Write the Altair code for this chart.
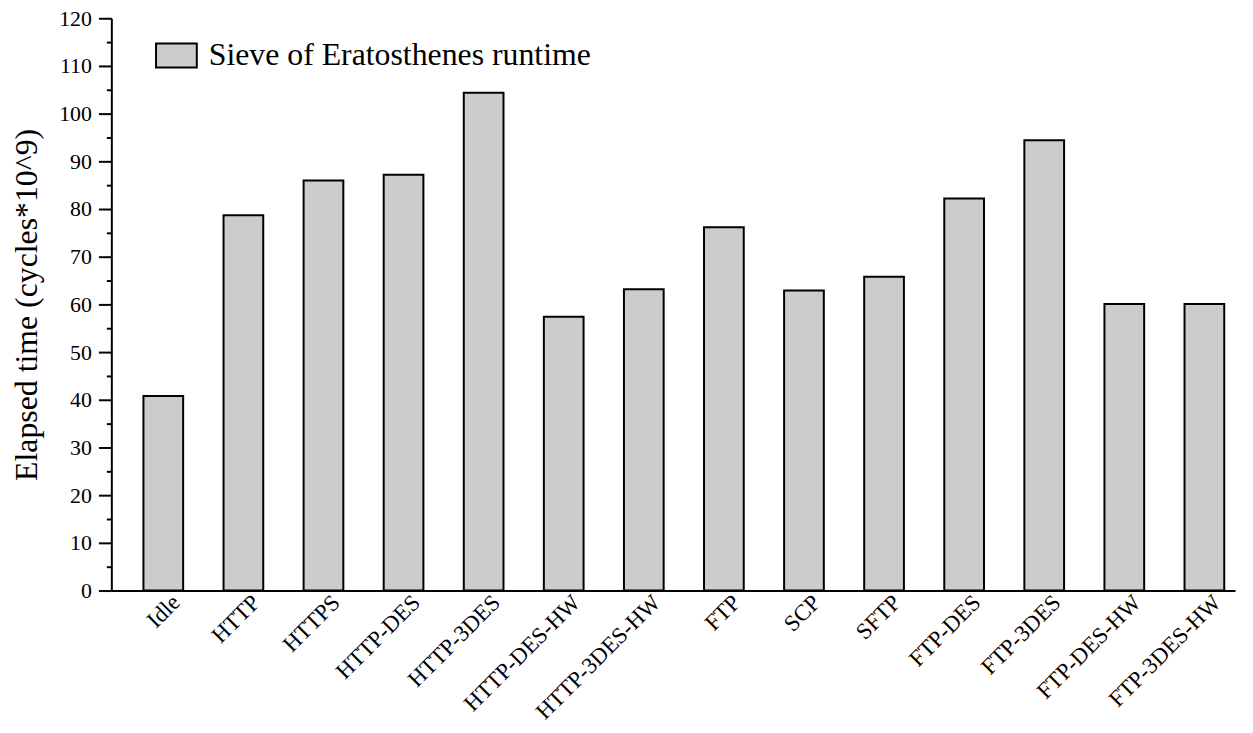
import altair as alt
import pandas as pd

categories = ["Idle", "HTTP", "HTTPS", "HTTP-DES", "HTTP-3DES", "HTTP-DES-HW",
              "HTTP-3DES-HW", "FTP", "SCP", "SFTP", "FTP-DES", "FTP-3DES",
              "FTP-DES-HW", "FTP-3DES-HW"]
values = [40.8, 78.7, 86.0, 87.2, 104.4, 57.4, 63.2, 76.2, 62.9, 65.8, 82.2, 94.4, 60.1, 60.1]
series_name = "Sieve of Eratosthenes runtime"
major_ticks = list(range(0, 121, 10))
minor_ticks = list(range(5, 120, 10))

df = pd.DataFrame({"cat": categories, "val": values, "series": [series_name] * len(categories)})

FONT = "Liberation Serif"
yscale = alt.Scale(domain=[0, 120], nice=False)

bars = alt.Chart(df).mark_bar(stroke="black", strokeWidth=2).encode(
    x=alt.X("cat:N", sort=categories, title=None,
            scale=alt.Scale(paddingInner=0.504, paddingOuter=0.268, align=0.748),
            axis=alt.Axis(labelAngle=-45, labelAlign="right", labelBaseline="middle",
                          labelFont=FONT, labelFontSize=23, labelColor="black",
                          labelPadding=8, labelOffset=13, ticks=False, domainColor="black",
                          domainWidth=2)),
    y=alt.Y("val:Q", title="Elapsed time (cycles*10^9)", scale=yscale,
            axis=alt.Axis(orient="left", values=major_ticks, tickSize=13,
                          tickColor="black", tickWidth=2, domainColor="black", domainWidth=2,
                          grid=False, labelFont=FONT, labelFontSize=22, labelColor="black",
                          labelPadding=7, titleFont=FONT, titleFontSize=32,
                          titleFontWeight="normal", titleColor="black", titlePadding=15)),
    color=alt.Color("series:N", scale=alt.Scale(range=["#cccccc"]),
                    legend=alt.Legend(title=None, orient="none", legendX=44, legendY=16,
                                      padding=0, symbolType="M-1,-0.585H1V0.585H-1Z",
                                      symbolSize=1681, symbolStrokeColor="black",
                                      symbolStrokeWidth=2, symbolFillColor="#cccccc",
                                      labelFont=FONT, labelFontSize=32, labelColor="black",
                                      labelOffset=11, labelLimit=600)),
)

minor = alt.Chart(df).mark_point(opacity=0).encode(
    y=alt.Y("val:Q", title=None, scale=yscale,
            axis=alt.Axis(orient="left", values=minor_ticks, tickSize=5, labels=False,
                          domain=False, grid=False, tickColor="black", tickWidth=2,
                          title=None)),
)

chart = alt.layer(bars, minor).resolve_axis(y="independent").properties(
    width=1131, height=576,
    autosize=alt.AutoSizeParams(type="none"),
    padding={"left": 104, "top": 8, "right": 10, "bottom": 132},
).configure(font=FONT).configure_axis(labelFont=FONT, titleFont=FONT).configure_view(stroke=None)

chart.save("out.html", embed_options={"renderer": "svg", "actions": False})
